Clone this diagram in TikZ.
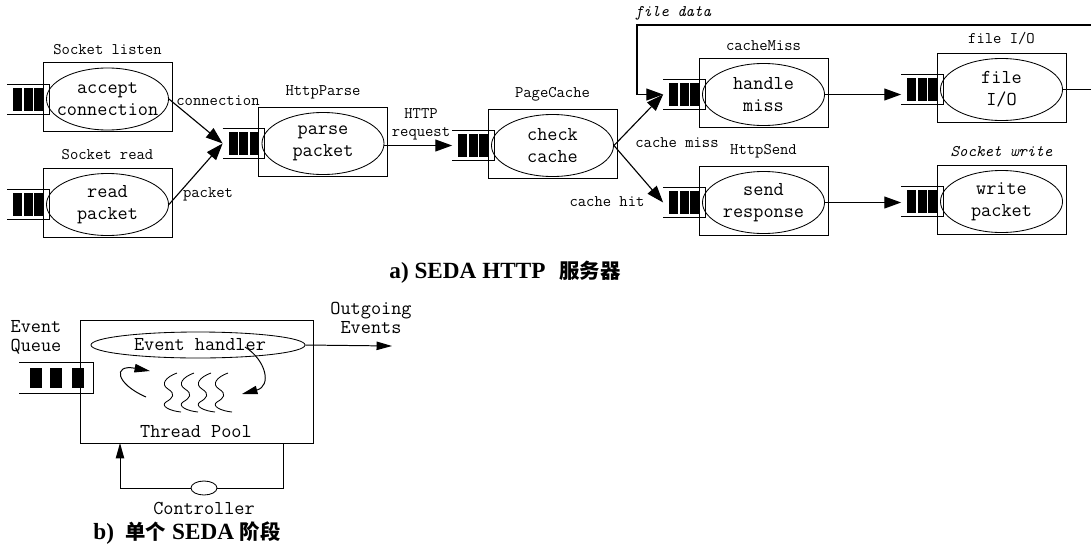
\documentclass[tikz,border=0pt]{standalone}
\usepackage{fontspec}
\newfontfamily\capfont{Liberation Serif}
\newfontfamily\cjk{Noto Sans CJK SC}
\usetikzlibrary{arrows.meta, shapes.geometric}

\begin{document}
\begin{tikzpicture}[x=0.025cm, y=-0.025cm, line width=0.6pt,
    box/.style={draw, minimum width=3.225cm, minimum height=1.725cm, inner sep=0pt},
    proc/.style={draw, ellipse, minimum width=3.05cm, minimum height=1.55cm, inner sep=0pt},
    proctext/.style={font=\ttfamily\fontsize{14}{15.5}\selectfont, align=center, inner sep=0pt},
    tag/.style={font=\ttfamily\fontsize{11.5}{12.8}\selectfont, align=center, inner sep=0pt},
    tagit/.style={tag, font=\ttfamily\itshape\fontsize{11.5}{12.8}\selectfont},
    queue/.style={minimum width=1.025cm, minimum height=0.725cm, inner sep=0pt},
    flow/.style={line width=0.8pt, -{Triangle[length=12pt, width=8.5pt]}},
    btext/.style={font=\ttfamily\fontsize{14}{13.5}\selectfont, align=left, inner sep=0pt},
    bflow/.style={line width=0.7pt, -{Triangle[length=11pt, width=6pt]}},
    figcap/.style={font=\capfont\bfseries\fontsize{16.5}{18}\selectfont, inner sep=0pt}
  ]
    \useasboundingbox (0,0) rectangle (1091,553);

    % one stage: name, x, y, label, text
    \def\stage#1#2#3#4#5{
        \node[box] (#1) at (#2,#3) {};
        \node[proc] (#1e) at ([shift={(0,2)}]#1.center) {};
        \node[proctext] (#1t) at (#1e) {#5};
        \node[tag, anchor=south] (#1l) at ([yshift=5pt]#1.north) {#4};
        \node[queue] (#1q) at ([shift={(-14.5,2)}]#1.west) {};
        \draw (#1q.north west) -- (#1q.north east) -- (#1q.south east) -- (#1q.south west);
        \foreach \b in {-10.5,0,10.5}
            \fill ([shift={(\b,0)}]#1q.center) ++(-4.5,-11.5) rectangle ++(9,23);
    }

    %% a) SEDA HTTP server
    \stage{listen}{107.5}{97}{Socket listen}{accept\\connection}
    \stage{sread}{107.5}{202.5}{Socket read}{read\\packet}
    \stage{parse}{323}{141.5}{HttpParse}{parse\\packet}
    \stage{cache}{552.5}{143.5}{PageCache}{check\\cache}
    \stage{miss}{763.5}{92.5}{cacheMiss}{handle\\miss}
    \stage{send}{763.5}{200.5}{HttpSend}{send\\response}
    \stage{fileio}{1001.5}{87.5}{file I/O}{file\\I/O}
    \stage{swrite}{1001.5}{199.5}{\itshape Socket write}{write\\packet}

    \draw[flow] (listene.east) -- (parseq.west);
    \draw[flow] (sreade.east) -- (parseq.west);
    \draw[flow] (parsee.east |- cacheq.west) -- (cacheq.west);
    \draw[flow] (cachee.east) -- (missq.west);
    \draw[flow] (cachee.east) -- (sendq.west);
    \draw[flow] (misse.east) -- (misse.east -| fileioq.west);
    \draw[flow] (sende.east) -- (sende.east -| swriteq.west);
    \draw[flow] (fileioe.east) -- ++(45,0) |- (637,25) |- (missq.west);

    \node[tag] (lconn) at (218,101) {connection};
    \node[tag] (lpkt) at (208,194) {packet};
    \node[tag] (lreq) at (421,124) {HTTP\\request};
    \node[tag] (lmiss) at (677,143) {cache miss};
    \node[tag] (lhit) at (607,202) {cache hit};
    \node[tagit] (ldata) at (673,13) {file data};

    \node[figcap] (capa) at (505,272) {a) SEDA HTTP\hspace{0.6em}{\cjk\fontsize{14.5}{16}\selectfont 服务器}};

    %% b) one SEDA stage
    \node[draw, minimum width=5.825cm, minimum height=3.075cm, inner sep=0pt] (stagebox) at (196.5,381.5) {};
    \node[draw, ellipse, minimum width=5.35cm, minimum height=0.65cm, inner sep=0pt] (handler) at (198,345) {};
    \node[btext] (handlert) at (200,345) {Event handler};

    \node[minimum width=1.825cm, minimum height=0.75cm, inner sep=0pt] (evq) at (56,377.5) {};
    \draw (evq.north west) -- (evq.north east) -- (evq.south east) -- (evq.south west);
    \foreach \b in {-20,0,21.5}
        \fill ([shift={(\b,0)}]evq.center) ++(-6,-10) rectangle ++(12,20);
    \node[btext] (evqt) at (36,337.5) {Event\\Queue};

    \node[btext, align=center] (outt) at (371,318) {Outgoing\\Events};
    \coordinate (outend) at (392,346);
    \draw[bflow] (handler.east) -- (outend);

    % threads
    \foreach \i [evaluate=\i as \tx using 168+17*\i] in {0,...,3}
        \draw ({\tx+9},373) .. controls ({\tx-2},377) and ({\tx-8},384) .. (\tx,389)
            .. controls ({\tx+8},394) and ({\tx+5},398) .. ({\tx-2},402)
            .. controls ({\tx-8},406) and ({\tx+2},411) .. ({\tx+13},412);

    \coordinate (upstart) at (146,397);
    \coordinate (upend) at (150,371);
    \draw[bflow] (upstart) .. controls (116,384) and (112,364) .. (upend);
    \coordinate (downstart) at (245,347);
    \coordinate (downend) at (242,394);
    \draw[bflow] (downstart) .. controls (266,360) and (272,386) .. (downend);

    \node[btext] (poolt) at (196,432) {Thread Pool};

    \node[draw, ellipse, minimum width=0.65cm, minimum height=0.35cm, inner sep=0pt] (ctrl) at (204,488) {};
    \node[btext] (ctrlt) at (204,508) {Controller};
    \coordinate (ctrlout) at (283,443);
    \coordinate (ctrlin) at (120,443);
    \draw (ctrlout) |- (ctrl.east);
    \draw[bflow] (ctrl.west) -| (ctrlin);

    \node[figcap] (capb) at (187,533) {b)\hspace{0.5em}{\cjk\fontsize{14.5}{16}\selectfont 单个} SEDA {\cjk\fontsize{14.5}{16}\selectfont 阶段}};
\end{tikzpicture}
\end{document}
